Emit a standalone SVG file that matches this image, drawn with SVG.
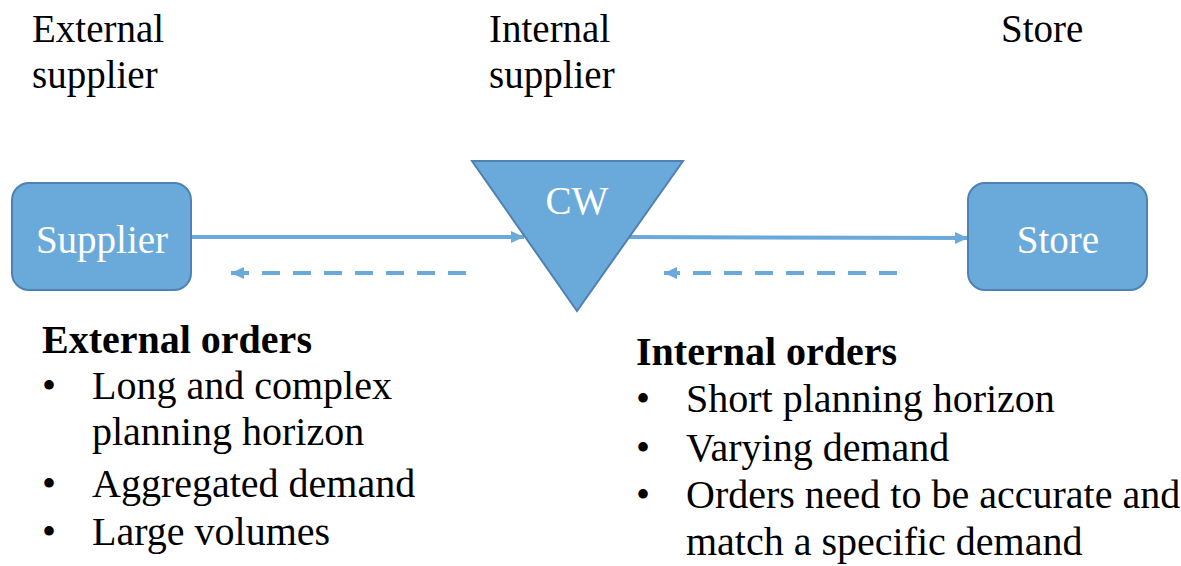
<svg xmlns="http://www.w3.org/2000/svg" width="1181" height="566" viewBox="0 0 1181 566">
  <style>
    .lbl { font-family: "Liberation Serif", "Times New Roman", serif; font-size: 39px; fill: #000; }
    .node-text { font-family: "Liberation Serif", "Times New Roman", serif; font-size: 39px; fill: #fff; text-anchor: middle; }
    .body { font-family: "Liberation Serif", "Times New Roman", serif; font-size: 40px; fill: #000; }
    .head { font-weight: bold; }
    .shape { fill: #6aaadb; stroke: #4f81b3; stroke-width: 2; }
    .flow { stroke: #6aaadb; stroke-width: 4; fill: none; }
    .dash { stroke-dasharray: 18 13; }
  </style>
  <defs>
    <marker id="head" markerUnits="userSpaceOnUse" markerWidth="14" markerHeight="14" refX="13" refY="7" orient="auto">
      <path d="M0,1 L13,7 L0,13 Z" fill="#6aaadb"/>
    </marker>
  </defs>
  <rect width="1181" height="566" fill="#fff"/>

  <!-- column headings -->
  <g id="headings">
    <text class="lbl" x="32" y="42">External</text>
    <text class="lbl" x="32" y="88">supplier</text>
    <text class="lbl" x="489" y="42">Internal</text>
    <text class="lbl" x="489" y="88">supplier</text>
    <text class="lbl" x="1001" y="42">Store</text>
  </g>

  <!-- connectors -->
  <g id="connectors">
    <line class="flow" x1="192" y1="237" x2="524" y2="237" marker-end="url(#head)"/>
    <line class="flow" x1="628" y1="237" x2="968" y2="238" marker-end="url(#head)"/>
    <line class="flow dash" x1="466" y1="273" x2="231" y2="273" marker-end="url(#head)"/>
    <line class="flow dash" x1="897" y1="273" x2="664" y2="273" marker-end="url(#head)"/>
  </g>

  <g id="supplier">
    <rect class="shape" x="12" y="183" width="179" height="107" rx="17"/>
    <text class="node-text" x="102" y="253">Supplier</text>
  </g>

  <g id="cw">
    <polygon class="shape" points="472,161 683,161 577,311"/>
    <text class="node-text" x="577" y="214">CW</text>
  </g>

  <g id="store">
    <rect class="shape" x="968" y="183" width="179" height="107" rx="17"/>
    <text class="node-text" x="1058" y="253">Store</text>
  </g>

  <!-- external order notes -->
  <g id="external-orders" class="body">
    <text class="head" x="42" y="353">External orders</text>
    <text x="42" y="399">•</text>
    <text x="92" y="399">Long and complex</text>
    <text x="92" y="445">planning horizon</text>
    <text x="42" y="497">•</text>
    <text x="92" y="497">Aggregated demand</text>
    <text x="42" y="545">•</text>
    <text x="92" y="545">Large volumes</text>
  </g>

  <!-- internal order notes -->
  <g id="internal-orders" class="body">
    <text class="head" x="636" y="365">Internal orders</text>
    <text x="636" y="412">•</text>
    <text x="686" y="412">Short planning horizon</text>
    <text x="636" y="461">•</text>
    <text x="686" y="461">Varying demand</text>
    <text x="636" y="508">•</text>
    <text x="686" y="508">Orders need to be accurate and</text>
    <text x="686" y="555">match a specific demand</text>
  </g>
</svg>
